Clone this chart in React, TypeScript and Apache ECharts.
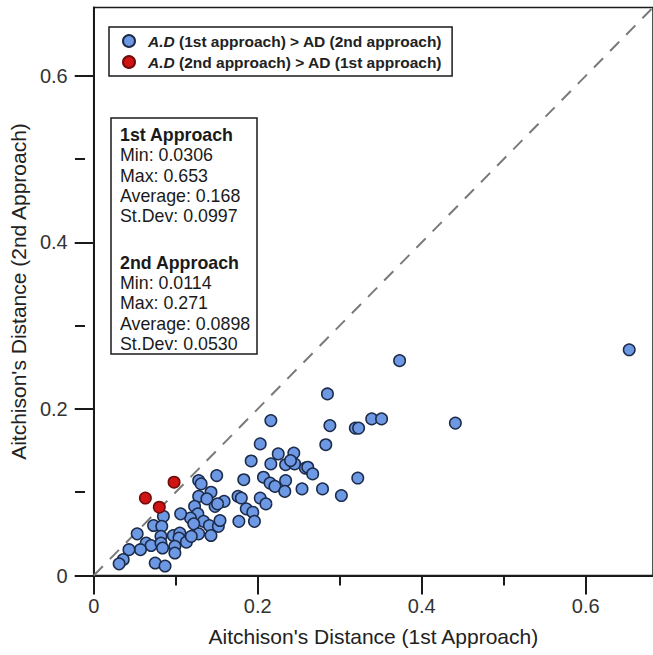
import React, { useEffect, useRef } from "react";
import * as echarts from "echarts";

// 1st approach (x) and 2nd approach (y) Aitchison's distances
const blue1st = [
  0.216, 0.203, 0.225, 0.244, 0.192, 0.216, 0.234, 0.245, 0.240, 0.258,
  0.150, 0.128, 0.131, 0.183, 0.207, 0.215, 0.221, 0.234, 0.233, 0.254,
  0.143, 0.128, 0.138, 0.159, 0.148, 0.151, 0.176, 0.180, 0.203, 0.210,
  0.186, 0.194, 0.123, 0.127, 0.118, 0.106, 0.134, 0.122, 0.141, 0.152,
  0.154, 0.177, 0.196, 0.085, 0.073, 0.083, 0.053, 0.082, 0.097, 0.105,
  0.104, 0.113, 0.128, 0.119, 0.143, 0.064, 0.070, 0.082, 0.084, 0.057,
  0.043, 0.099, 0.099, 0.036, 0.031, 0.075, 0.087,
  0.373, 0.285, 0.288, 0.319, 0.323, 0.339, 0.351, 0.441, 0.283, 0.261,
  0.267, 0.279, 0.302, 0.322, 0.653,
];
const blue2nd = [
  0.186, 0.158, 0.146, 0.147, 0.1375, 0.134, 0.133, 0.134, 0.138, 0.129,
  0.120, 0.114, 0.110, 0.115, 0.118, 0.111, 0.107, 0.114, 0.101, 0.104,
  0.100, 0.095, 0.092, 0.089, 0.083, 0.086, 0.095, 0.093, 0.093, 0.086,
  0.080, 0.076, 0.083, 0.074, 0.069, 0.074, 0.065, 0.062, 0.060, 0.059,
  0.066, 0.065, 0.065, 0.071, 0.060, 0.059, 0.050, 0.047, 0.048, 0.051,
  0.045, 0.040, 0.050, 0.047, 0.048, 0.039, 0.036, 0.039, 0.033, 0.031,
  0.031, 0.035, 0.027, 0.019, 0.014, 0.015, 0.0114,
  0.258, 0.218, 0.180, 0.177, 0.177, 0.188, 0.188, 0.183, 0.157, 0.130,
  0.122, 0.104, 0.096, 0.117, 0.271,
];
const red1st = [0.098, 0.063, 0.080];
const red2nd = [0.112, 0.093, 0.082];

const majorTicks = [0, 0.2, 0.4, 0.6];
const minorTicks = [0.1, 0.3, 0.5];
const identityLine = [0, 0.7];

const legendNames = [
  "A.D (1st approach) > AD (2nd approach)",
  "A.D (2nd approach) > AD (1st approach)",
];
const statsLines = [
  "1st Approach",
  "Min: 0.0306",
  "Max: 0.653",
  "Average: 0.168",
  "St.Dev: 0.0997",
  "2nd Approach",
  "Min: 0.0114",
  "Max: 0.271",
  "Average: 0.0898",
  "St.Dev: 0.0530",
];
const statsBold = [true, false, false, false, false, true, false, false, false, false];
const statsY = [135, 155, 176, 196, 216, 263, 283, 303, 324, 344];
const xTitle = "Aitchison's Distance (1st Approach)";
const yTitle = "Aitchison's Distance (2nd Approach)";

const FONT = "'Liberation Sans', Arial, Helvetica, sans-serif";
const AXMAX = 0.682;
const GRID_LEFT = 93.3;
const GRID_TOP = 7.5;
const GRID_SIZE = 568;
const INK = "#1a1a1a";

export default function App() {
  const ref = useRef<HTMLDivElement>(null);

  useEffect(() => {
    if (!ref.current) return;
    const chart = echarts.init(ref.current, undefined, { renderer: "svg" });

    const tickLine = { color: INK, width: 2 };
    const option: any = {
      animation: false,
      backgroundColor: "#fff",
      grid: {
        left: GRID_LEFT,
        top: GRID_TOP,
        width: GRID_SIZE,
        height: GRID_SIZE,
        show: true,
        borderColor: INK,
        borderWidth: 1.5,
        backgroundColor: "transparent",
      },
      xAxis: [
        {
          type: "value",
          min: 0,
          max: AXMAX,
          position: "bottom",
          name: xTitle,
          nameLocation: "middle",
          nameGap: 50,
          nameTextStyle: { fontSize: 21, color: "#222", fontFamily: FONT },
          axisLine: { show: true, onZero: false, lineStyle: tickLine },
          axisTick: { show: true, length: 19, customValues: majorTicks, lineStyle: tickLine },
          axisLabel: {
            customValues: majorTicks,
            margin: 20,
            fontSize: 20,
            color: "#333",
            fontFamily: FONT,
            formatter: (v: number) => (v === 0 ? "0" : String(+v.toFixed(2))),
          },
          splitLine: { show: false },
        },
        {
          type: "value",
          min: 0,
          max: AXMAX,
          position: "top",
          offset: -GRID_SIZE,
          axisLine: { show: false, onZero: false },
          axisTick: { show: true, inside: true, length: 10, customValues: minorTicks, lineStyle: tickLine },
          axisLabel: { show: false },
          splitLine: { show: false },
        },
      ],
      yAxis: [
        {
          type: "value",
          min: 0,
          max: AXMAX,
          position: "left",
          name: yTitle,
          nameLocation: "middle",
          nameGap: 57,
          nameTextStyle: { fontSize: 21, color: "#222", fontFamily: FONT },
          axisLine: { show: true, onZero: false, lineStyle: tickLine },
          axisTick: { show: true, length: 19, customValues: majorTicks, lineStyle: tickLine },
          axisLabel: {
            customValues: majorTicks,
            margin: 26,
            fontSize: 20,
            color: "#333",
            fontFamily: FONT,
            formatter: (v: number) => (v === 0 ? "0" : String(+v.toFixed(2))),
          },
          splitLine: { show: false },
        },
        {
          type: "value",
          min: 0,
          max: AXMAX,
          position: "right",
          offset: -GRID_SIZE,
          axisLine: { show: false, onZero: false },
          axisTick: { show: true, inside: true, length: 10, customValues: minorTicks, lineStyle: tickLine },
          axisLabel: { show: false },
          splitLine: { show: false },
        },
      ],
      legend: {
        left: 109,
        top: 27,
        orient: "vertical",
        data: legendNames,
        selectedMode: false,
        borderColor: INK,
        borderWidth: 1.5,
        backgroundColor: "#fff",
        padding: [6, 10, 6, 13],
        itemGap: 5,
        itemWidth: 12,
        itemHeight: 12,
        icon: "circle",
        formatter: (n: string) => n.replace("A.D", "{i|A.D}"),
        textStyle: {
          fontFamily: FONT,
          fontSize: 15.5,
          fontWeight: "bold",
          color: "#222",
          padding: [0, 0, 0, 8],
          rich: {
            i: { fontStyle: "italic", fontWeight: "bold", fontSize: 15.5, fontFamily: FONT, color: "#222" },
          },
        },
      },
      series: [
        {
          type: "line",
          data: identityLine.map((v) => [v, v]),
          showSymbol: false,
          symbol: "none",
          silent: true,
          z: 1,
          lineStyle: { color: "#7a7a7a", width: 2, type: [13, 10] },
        },
        {
          name: legendNames[0],
          type: "scatter",
          data: blue1st.map((x, i) => [x, blue2nd[i]]),
          symbol: "circle",
          symbolSize: 11.5,
          z: 3,
          itemStyle: { color: "#6d98e4", borderColor: "#1c2b4a", borderWidth: 1.5, opacity: 1 },
        },
        {
          name: legendNames[1],
          type: "scatter",
          data: red1st.map((x, i) => [x, red2nd[i]]),
          symbol: "circle",
          symbolSize: 11.5,
          z: 4,
          itemStyle: { color: "#d01414", borderColor: "#6e0c0c", borderWidth: 1.5, opacity: 1 },
        },
      ],
      graphic: [
        {
          type: "rect",
          shape: { x: 111, y: 118, width: 146, height: 236 },
          style: { fill: "#fff", stroke: INK, lineWidth: 1.5 },
          z: 10,
        },
        ...statsLines.map((t, i) => ({
          type: "text",
          x: 120,
          y: statsY[i],
          z: 11,
          style: {
            text: t,
            fill: "#1a1a1a",
            fontFamily: FONT,
            fontSize: 17.8,
            fontWeight: statsBold[i] ? "bold" : "normal",
            verticalAlign: "middle",
            align: "left",
          },
        })),
      ],
    };

    chart.setOption(option);
    return () => chart.dispose();
  }, []);

  return (
    <div
      ref={ref}
      style={{ position: "fixed", left: 0, top: 0, width: 653, height: 655, background: "#fff" }}
    />
  );
}
